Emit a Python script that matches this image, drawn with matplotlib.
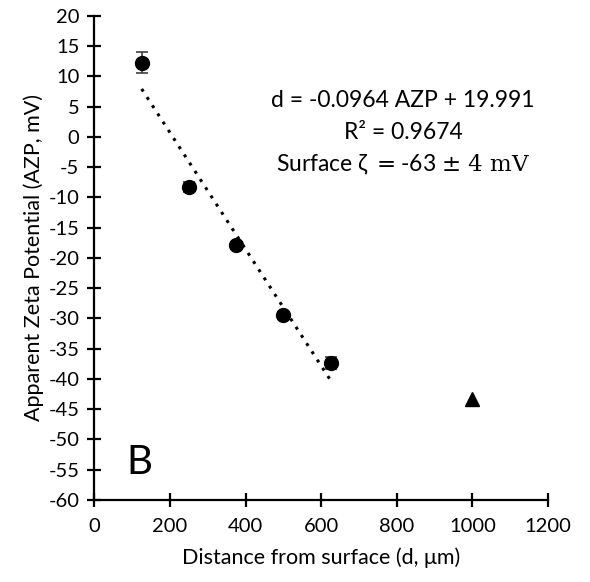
import numpy as np
import matplotlib
matplotlib.use('Agg')
import matplotlib.pyplot as plt

plt.rcParams['font.family'] = ['Lato', 'DejaVu Sans']
plt.rcParams['axes.unicode_minus'] = False
plt.rcParams['mathtext.fontset'] = 'dejavuserif'

# measured points (distance from surface, apparent zeta potential)
dist = [125, 250, 375, 500, 625]
azp = [12.3, -8.3, -17.9, -29.5, -37.3]
azp_err = [1.7, 0.8, 0.5, 0.5, 1.0]

# extra point (triangle)
dist_tri = [1000]
azp_tri = [-43.3]

# trendline coefficients as printed on the chart
slope = -0.0964
intercept = 19.991

fig = plt.figure(figsize=(5.9, 5.82), dpi=100)
ax = fig.add_axes([0.16, 0.141, 0.769, 0.8315])

xt = np.array([dist[0], dist[-1]])
ax.plot(xt, slope * xt + intercept, linestyle=(0, (1, 2.2)), color='k', linewidth=2.2)

ax.errorbar(dist, azp, yerr=azp_err, fmt='o', color='k', ecolor='#404040',
            markersize=10, capsize=4, elinewidth=1.2, capthick=1.2)
ax.plot(dist_tri, azp_tri, '^', color='k', markersize=10)

ax.set_xlim(0, 1200)
ax.set_ylim(-60, 20)
ax.set_xticks(np.arange(0, 1201, 200))
ax.set_yticks(np.arange(-60, 21, 5))

for s in ['top', 'right']:
    ax.spines[s].set_visible(False)
for s in ['left', 'bottom']:
    ax.spines[s].set_linewidth(1.6)
ax.tick_params(direction='inout', length=9.5, width=1.6, labelsize=14.5)
ax.tick_params(axis='y', pad=6)
ax.tick_params(axis='x', pad=8)

ax.set_xlabel('Distance from surface (d, \u03bcm)', fontsize=15.5, labelpad=9)
ax.set_ylabel('Apparent Zeta Potential (AZP, mV)', fontsize=15.5, labelpad=3)

ax.text(120, -53.8, 'B', fontsize=29, ha='center', va='center')

ax.text(816, 6.1, 'd = -0.0964 AZP + 19.991', fontsize=16.5, ha='center', va='center')
ax.text(816, 0.66, 'R\u00b2 = 0.9674', fontsize=16.5, ha='center', va='center')
ax.text(816, -4.6, 'Surface \u03b6 $=$-63 $\\pm\\ 4\\ \\mathrm{mV}$', fontsize=16.5,
        ha='center', va='center')

fig.savefig('out.png', dpi=100)
